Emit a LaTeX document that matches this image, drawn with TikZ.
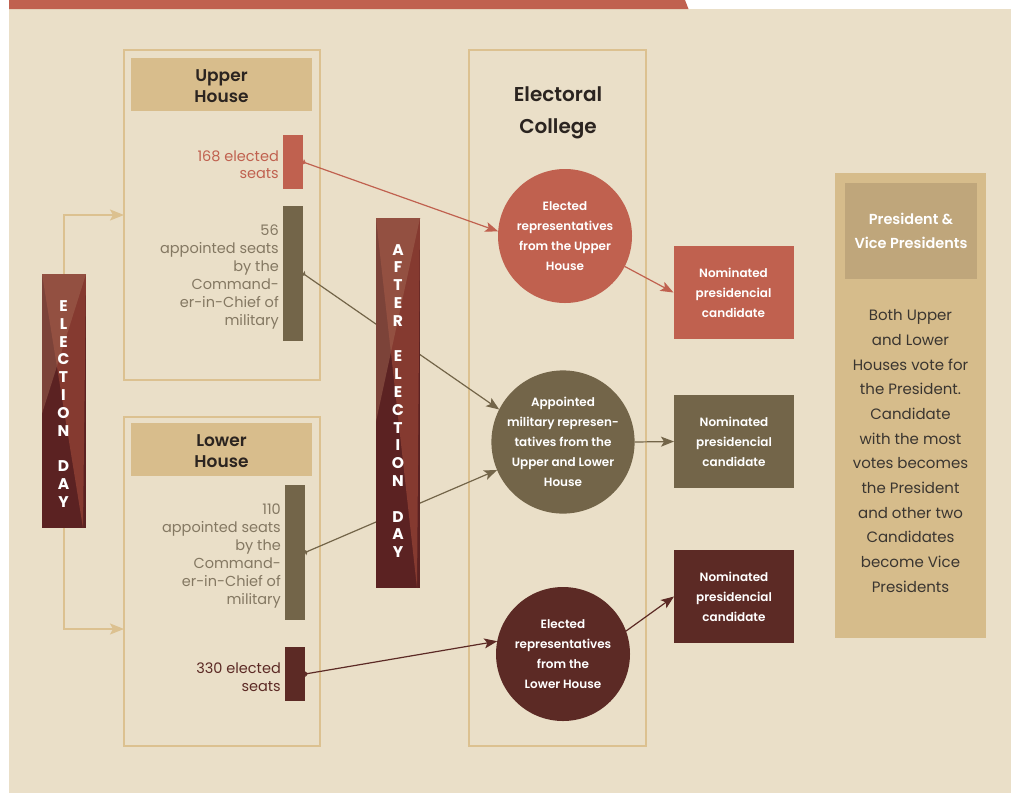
\documentclass[tikz,border=0pt]{standalone}
\usepackage{fontspec}
\setmainfont{Poppins}[BoldFont={* SemiBold}]
\newfontfamily\heavyfont{Poppins}[UprightFont={* Bold}]
\usetikzlibrary{arrows.meta,calc}

\definecolor{bg}{HTML}{EADFC8}
\definecolor{tanline}{HTML}{DCC190}
\definecolor{tanfill}{HTML}{D8BD8C}
\definecolor{redc}{HTML}{C0614F}
\definecolor{olive}{HTML}{736549}
\definecolor{olivetext}{HTML}{847862}
\definecolor{darkred}{HTML}{5C2A25}
\definecolor{paneltan}{HTML}{D6BC8B}
\definecolor{panelhead}{HTML}{BFA67B}
\definecolor{ink}{HTML}{2B2420}
\definecolor{bodyink}{HTML}{3A3530}
\definecolor{bardark}{HTML}{5B2222}
\definecolor{barred}{HTML}{853A30}
\definecolor{barbrown}{HTML}{A66C57}

\tikzset{
  fs/.style 2 args={font=\fontsize{#1}{#2}\selectfont},
  bfs/.style 2 args={font=\bfseries\fontsize{#1}{#2}\selectfont},
  housebox/.style={draw=tanline, line width=2.5pt, inner sep=0pt, outer sep=0pt},
  headbox/.style={fill=tanfill, minimum width=181pt, minimum height=53pt, inner sep=0pt},
  headtext/.style={align=center, text=ink, inner sep=0pt, bfs={17}{21}},
  seatbar/.style={fill=#1, minimum width=20pt, inner sep=0pt, outer sep=0pt},
  seatlabel/.style={anchor=east, align=right, inner sep=0pt, text=#1, fs={14.5}{18}},
  seatlabeltight/.style={anchor=east, align=right, inner sep=0pt, text=#1, fs={14.5}{17}},
  votecircle/.style={circle, fill=#1, minimum size=134pt, inner sep=0pt, outer sep=0pt,
    text=white, align=center, bfs={12}{20}},
  nombox/.style={fill=#1, minimum width=120pt, minimum height=93pt, inner sep=0pt, outer sep=0pt,
    text=white, align=center, bfs={12}{20}},
  daybar/.style={minimum width=44pt, inner sep=0pt, outer sep=0pt},
  dayletters/.style={text=white, align=center, inner sep=0pt,
    font=\heavyfont\fontsize{15.5}{17.8}\selectfont},
  conn/.style={draw=#1, line width=1.2pt,
    arrows={Triangle[reversed,length=3pt,width=6pt]-Stealth[length=13pt,width=10pt,inset=3pt]}},
  flow/.style={draw=#1, line width=1.2pt,
    arrows={-Stealth[length=13pt,width=10pt,inset=3pt]}},
  dayflow/.style={draw=tanline, line width=1.6pt,
    arrows={-Stealth[length=14pt,width=11pt,inset=3pt]}}
}

% faceted fill of a vertical day banner
\newcommand\facetbar[1]{%
  \begin{scope}
    \clip (#1.south west) rectangle (#1.north east);
    \fill[bardark] (#1.south west) rectangle (#1.north east);
    \fill[barred] (#1.north west) -- (#1.north east) -- ([xshift=-3pt]#1.south east) -- cycle;
    \fill[barbrown, opacity=0.45] (#1.north west) -- (#1.north east)
      -- ($(#1.north west)!0.55!(#1.south west)$) -- cycle;
  \end{scope}}

\begin{document}
\begin{tikzpicture}[x=1pt,y=-1pt]
\useasboundingbox (0,0) rectangle (1011,793);
\fill[white] (0,0) rectangle (1011,793);
\fill[bg] (9,9) rectangle (1011,793);
\fill[redc] (9,0) -- (685,0) -- (688.5,9) -- (9,9) -- cycle;

% houses and the college
\node[housebox, minimum width=196pt, minimum height=330pt] (upper) at (222,215) {};
\node[housebox, minimum width=196pt, minimum height=329pt] (lower) at (222,581.5) {};
\node[housebox, minimum width=177pt, minimum height=696pt] (college) at (557.5,398) {};

\node[headbox] (upperhead) at (221.5,84.5) {};
\node[headtext] (upperheadtext) at (221.5,86.5) {Upper\\House};
\node[headbox] (lowerhead) at (221.5,449.5) {};
\node[headtext] (lowerheadtext) at (221.5,451.5) {Lower\\House};
\node[text=ink, align=center, bfs={20}{32}] (collegetitle) at (558,113) {Electoral\\College};

% seat bars and labels
\node[seatbar=redc, minimum height=54pt] (redbar) at (293,162) {};
\node[seatbar=olive, minimum height=135pt] (olivebar1) at (293,273.5) {};
\node[seatbar=olive, minimum height=135pt] (olivebar2) at (295,552.5) {};
\node[seatbar=darkred, minimum height=54pt] (darkbar) at (295,674) {};

\node[seatlabeltight=redc] (redlabel) at (279,165) {168 elected\\seats};
\node[seatlabel=olivetext] (olivelabel1) at (279,277.5)
  {56\\appointed seats\\by the\\Command-\\er-in-Chief of\\military};
\node[seatlabel=olivetext] (olivelabel2) at (281,556)
  {110\\appointed seats\\by the\\Command-\\er-in-Chief of\\military};
\node[seatlabel=darkred] (darklabel) at (281,677) {330 elected\\seats};

% electoral college groups
\node[votecircle=redc] (redcirc) at (565,236)
  {Elected\\representatives\\from the Upper\\House};
\node[votecircle=olive] (olivecirc) at (563,442)
  {Appointed\\military represen-\\tatives from the\\Upper and Lower\\House};
\node[votecircle=darkred] (darkcirc) at (563,654)
  {Elected\\representatives\\from the\\Lower House};

% nominated candidates
\node[nombox=redc] (redbox) at (733.5,292.5) {Nominated\\presidencial\\candidate};
\node[nombox=olive] (olivebox) at (734,441.5) {Nominated\\presidencial\\candidate};
\node[nombox=darkred] (darkbox) at (734,596.5) {Nominated\\presidencial\\candidate};

% result panel
\node[fill=paneltan, minimum width=151pt, minimum height=465pt, inner sep=0pt] (panel) at (910.5,405.5) {};
\node[fill=panelhead, minimum width=132pt, minimum height=96pt, inner sep=0pt,
  text=white, align=center, bfs={14.5}{24}] (panelhead) at (911,231) {President \&\\Vice Presidents};
\node[text=bodyink, align=center, inner sep=0pt, fs={15}{24.7}] (paneltext) at (910.5,451)
  {Both Upper\\and Lower\\Houses vote for\\the President.\\Candidate\\with the most\\votes becomes\\the President\\and other two\\Candidates\\become Vice\\Presidents};

% flows into and out of the college
\draw[conn=redc] (redbar.east) -- (redcirc.176);
\draw[conn=olive] (olivebar1.east) -- (olivecirc.153);
\draw[conn=olive] (olivebar2.east) -- (olivecirc.203);
\draw[conn=darkred] (darkbar.east) -- (darkcirc.169);
\draw[flow=redc] (redcirc.333) -- (redbox.west);
\draw[flow=olive] (olivecirc.east) -- (olivebox.west);
\draw[flow=darkred] (darkcirc.20) -- (darkbox.west);

% election day banner
\node[daybar, minimum height=254pt] (elday) at (64,401) {};
\facetbar{elday}
\node[dayletters] (eldaytext) at (63.5,404) {E\\L\\E\\C\\T\\I\\O\\N\\\mbox{}\\D\\A\\Y};
\draw[dayflow] (elday.north) |- (upper.west);
\draw[dayflow] (elday.south) |- ([yshift=-47.5pt]lower.west);

% after election day banner
\node[daybar, minimum height=370pt] (afterday) at (398,403) {};
\facetbar{afterday}
\node[dayletters] (afterdaytext) at (398,401)
  {A\\F\\T\\E\\R\\\mbox{}\\E\\L\\E\\C\\T\\I\\O\\N\\\mbox{}\\D\\A\\Y};
\end{tikzpicture}
\end{document}
